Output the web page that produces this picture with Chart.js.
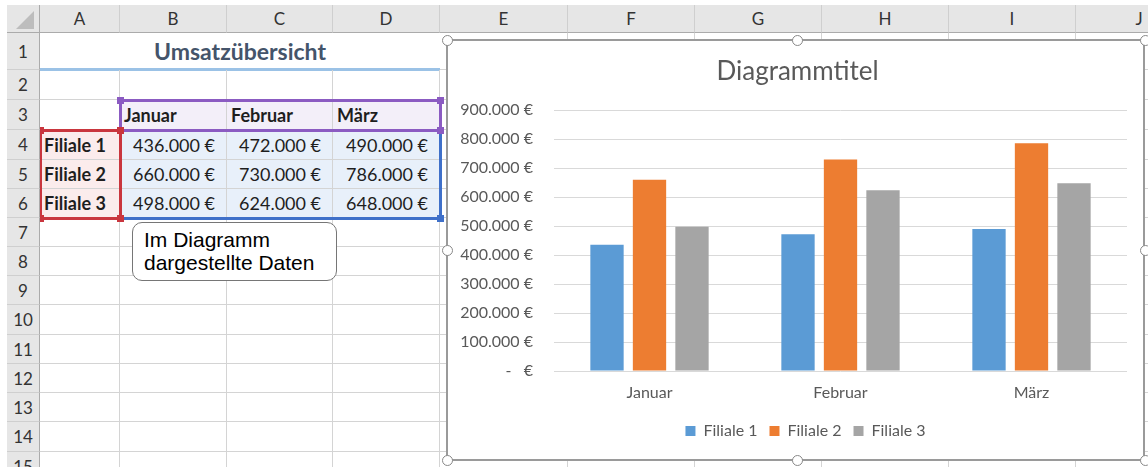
<!DOCTYPE html>
<html lang="de">
<head>
<meta charset="utf-8">
<title>Umsatzübersicht</title>
<script src="https://cdn.jsdelivr.net/npm/chart.js@4"></script>
<style>
  html, body { margin: 0; padding: 0; background: #fff; }
  #sheet { position: relative; width: 1148px; height: 467px; overflow: hidden; font-family: Lato, sans-serif; }
  #sheet div { position: absolute; box-sizing: border-box; }
  .cell { border-right: 1px solid #d4d4d4; border-bottom: 1px solid #d4d4d4; font-size: 18px; color: #1e1e1e;
          display: flex; align-items: center; white-space: nowrap; overflow: visible; }
  .left { padding-left: 4px; }
  .right { justify-content: flex-end; padding-right: 11px; }
  .bold { font-weight: bold; }
  .hdr { background: #e6e6e6; border-right: 1px solid #cfcfcf; border-bottom: 1px solid #cfcfcf; color: #333;
         font-size: 17px; display: flex; align-items: center; justify-content: center; z-index: 5; }
  .colhdr { border-bottom: 1px solid #ababab; }
  .rowhdr { border-right: 1px solid #ababab; }
  .title { font-size: 23px; font-weight: bold; color: #44546a; justify-content: center;
           border-bottom: 3px solid #9bc2e6; border-right: none; }
  .box { background: transparent; z-index: 3; }
  .handle { z-index: 4; }
  .note { left: 132px; top: 222px; width: 205px; height: 59px; background: #fff; border: 1.5px solid #767676;
          border-radius: 10px; font-family: "Liberation Sans", Arial, sans-serif; font-size: 21px; line-height: 23px;
          color: #000; padding: 5px 0 0 11px; z-index: 6; white-space: nowrap; }
  #chartWrap { left: 448px; top: 41px; width: 695px; height: 418px; background: #fff; z-index: 7; }
  #frame { left: 446px; top: 39px; width: 699px; height: 422px; border: 2px solid #9a9a9a; z-index: 8; }
  .knob { width: 11px; height: 11px; border-radius: 50%; background: #fff; border: 1.5px solid #888; z-index: 9; }
</style>
</head>
<body>
<div id="sheet">
  <div id="chartWrap"><canvas id="chart"></canvas></div>
  <div id="frame"></div>
</div>
<script>
// Daten
const months = ['Januar', 'Februar', 'März'];
const branches = ['Filiale 1', 'Filiale 2', 'Filiale 3'];
const filiale1 = [436000, 472000, 490000];
const filiale2 = [660000, 730000, 786000];
const filiale3 = [498000, 624000, 648000];
const yMax = 900000;
const yStep = 100000;
const chartTitle = 'Diagrammtitel';
const sheetTitle = 'Umsatzübersicht';
const noteLines = ['Im Diagramm', 'dargestellte Daten'];
const colLetters = ['A', 'B', 'C', 'D', 'E', 'F', 'G', 'H', 'I', 'J'];

const series = [filiale1, filiale2, filiale3];

function formatEuro(v) {
  if (v === 0) return '-   €';
  return String(v).replace(/\B(?=(\d{3})+(?!\d))/g, '.') + ' €';
}

// Tabellenblatt
const sheet = document.getElementById('sheet');
const colX = [7, 40, 120, 227, 333, 440, 568, 695, 822, 949, 1076, 1203];
const rowY = [5, 33, 70, 100, 130, 160, 189, 218, 247, 276, 305, 335, 364, 393, 422, 452, 481];

function add(cls, x, y, w, h, text) {
  const d = document.createElement('div');
  d.className = cls;
  d.style.left = x + 'px';
  d.style.top = y + 'px';
  d.style.width = w + 'px';
  d.style.height = h + 'px';
  if (text !== undefined) d.textContent = text;
  sheet.insertBefore(d, sheet.firstChild);
  return d;
}

function cellContent(r, c) {
  if (r === 3 && c >= 2 && c <= 4) return { text: months[c - 2], cls: 'bold left', bg: '#f3eff9' };
  if (r >= 4 && r <= 6 && c === 1) return { text: branches[r - 4], cls: 'bold left', bg: '#fbecec' };
  if (r >= 4 && r <= 6 && c >= 2 && c <= 4) return { text: formatEuro(series[r - 4][c - 2]), cls: 'right', bg: '#e8f0fa' };
  return null;
}

for (let r = 1; r < rowY.length - 1; r++) {
  for (let c = 1; c < colX.length - 1; c++) {
    if (r === 1 && c <= 4) continue;
    const info = cellContent(r, c);
    const d = add('cell' + (info ? ' ' + info.cls : ''), colX[c], rowY[r], colX[c + 1] - colX[c], rowY[r + 1] - rowY[r],
      info ? info.text : undefined);
    if (info) d.style.background = info.bg;
  }
}
add('cell title', colX[1], rowY[1], colX[5] - colX[1], rowY[2] - rowY[1] + 1, sheetTitle);

// Spalten- und Zeilenköpfe
for (let c = 1; c < colX.length - 1; c++) {
  add('hdr colhdr', colX[c], rowY[0], colX[c + 1] - colX[c], rowY[1] - rowY[0], colLetters[c - 1]);
}
for (let r = 1; r < rowY.length - 1; r++) {
  add('hdr rowhdr', colX[0], rowY[r], colX[1] - colX[0], rowY[r + 1] - rowY[r], String(r));
}
const corner = add('hdr colhdr rowhdr', colX[0], rowY[0], colX[1] - colX[0], rowY[1] - rowY[0]);
const tri = document.createElement('div');
Object.assign(tri.style, { left: '9px', top: '6px', width: '0', height: '0',
  borderLeft: '18px solid transparent', borderBottom: '18px solid #bdbdbd' });
corner.appendChild(tri);

// Bereichsmarkierungen (blau, lila, rot)
function rangeBox(x1, y1, x2, y2, color, z) {
  const b = add('box', x1 - 1.5, y1 - 1.5, x2 - x1 + 3, y2 - y1 + 3);
  b.style.border = '3px solid ' + color;
  b.style.zIndex = z;
  [[x1, y1], [x2, y1], [x1, y2], [x2, y2]].forEach(([x, y]) => {
    const h = add('handle', x - 3.5, y - 3.5, 7, 7);
    h.style.background = color;
    h.style.zIndex = z + 1;
  });
}
rangeBox(colX[2], rowY[4], colX[5], rowY[7], '#3f70c9', 2);
rangeBox(colX[2], rowY[3], colX[5], rowY[4], '#8b5bc2', 3);
rangeBox(colX[1], rowY[4], colX[2], rowY[7], '#c9363e', 4);

const note = add('note', 132, 222, 205, 59);
note.innerHTML = noteLines.join('<br>');

// Griffe am Diagrammrahmen
[[447, 40], [797, 40], [1145, 40], [447, 250], [1145, 250], [447, 460], [797, 460], [1145, 460]].forEach(([x, y]) => {
  const k = document.createElement('div');
  k.className = 'knob';
  k.style.left = (x - 5.5) + 'px';
  k.style.top = (y - 5.5) + 'px';
  sheet.appendChild(k);
});

// Diagramm
const textColor = '#595959';
Chart.defaults.font.family = 'Lato';

// Titel und Legende wie in Excel mittig über dem ganzen Diagramm
const centerShift = {
  id: 'centerShift',
  afterLayout(chart) {
    chart.titleBlock.left += 10;
    chart.titleBlock.right += 10;
    chart.legend.left += 18;
    chart.legend.right += 18;
  }
};

new Chart(document.getElementById('chart'), {
  type: 'bar',
  data: {
    labels: months,
    datasets: [
      { label: branches[0], data: filiale1, backgroundColor: '#5b9bd5' },
      { label: branches[1], data: filiale2, backgroundColor: '#ed7d31' },
      { label: branches[2], data: filiale3, backgroundColor: '#a5a5a5' }
    ]
  },
  plugins: [centerShift],
  options: {
    responsive: true,
    maintainAspectRatio: false,
    animation: false,
    layout: { padding: { top: 0, right: 16, bottom: 10, left: 0 } },
    datasets: { bar: { categoryPercentage: 0.6675, barPercentage: 0.784 } },
    plugins: {
      title: {
        display: true,
        text: chartTitle,
        color: textColor,
        font: { size: 26, weight: 'normal' },
        padding: { top: 15, bottom: 23 }
      },
      legend: {
        position: 'bottom',
        labels: { color: textColor, font: { size: 16 }, boxWidth: 10, boxHeight: 10, padding: 12 }
      },
      tooltip: { enabled: false }
    },
    scales: {
      x: {
        grid: { display: false },
        border: { display: false },
        ticks: { color: textColor, font: { size: 16 }, padding: 4 },
        afterFit: (s) => { s.height = 40; }
      },
      y: {
        min: 0,
        max: yMax,
        ticks: { stepSize: yStep, color: textColor, font: { size: 16 }, padding: 21, callback: (v) => formatEuro(v) },
        grid: { color: '#d9d9d9', drawTicks: false },
        border: { display: false },
        afterFit: (s) => { s.width = 106; }
      }
    }
  }
});
</script>
</body>
</html>
